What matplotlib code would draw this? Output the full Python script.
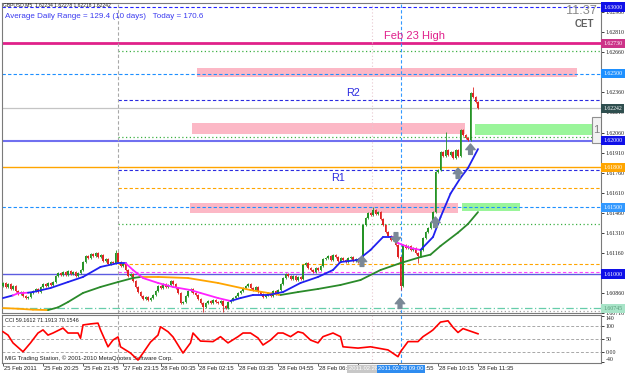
"""
GBPUSD M5 - painel estilo MetaTrader com zonas, pivôs, médias e CCI.
Saída: out.png (625x374)
"""

import numpy as np
import matplotlib
matplotlib.use("Agg")
import matplotlib.pyplot as plt
from matplotlib.patches import Rectangle
from matplotlib.transforms import blended_transform_factory

plt.rcParams["font.family"] = ["Liberation Sans", "DejaVu Sans"]

# ── Dados (preços em pips acima de 1.60000, um valor por barra M5) ────────────
BASE = 1.6
PIP = 0.0001

first_open = 91.0
close_pips = [
    93.3, 90.3, 92.5, 88.8, 91.0, 87.3, 85.0, 86.5, 83.5, 82.0,
    82.8, 85.8, 87.3, 88.8, 86.5, 90.3, 92.5, 91.0, 93.3, 91.8,
    94.0, 98.5, 100.8, 99.3, 101.5, 99.3, 102.3, 100.0, 101.5, 98.5,
    100.8, 103.0, 109.0, 113.5, 112.0, 115.0, 113.5, 115.7, 112.7, 114.2,
    109.7, 111.2, 107.5, 109.0, 108.2, 115.7, 109.0, 106.0, 107.5, 103.0,
    98.5, 100.0, 94.8, 90.3, 86.5, 83.5, 81.3, 82.8, 80.5, 82.0,
    84.3, 87.3, 91.0, 89.5, 92.5, 90.3, 91.8, 94.8, 92.5, 89.5,
    85.8, 78.3, 79.0, 83.5, 87.3, 88.8, 85.8, 84.3, 81.3, 78.3,
    75.3, 78.3, 79.8, 78.3, 80.5, 79.0, 78.3, 79.8, 76.0, 74.5,
    79.0, 80.5, 82.0, 83.5, 85.8, 87.3, 89.5, 91.0, 92.5, 89.5,
    88.0, 90.3, 86.5, 85.0, 82.8, 84.3, 85.8, 83.5, 87.3, 85.0,
    88.0, 92.5, 97.0, 100.0, 98.5, 96.3, 98.5, 95.5, 97.8, 96.3,
    106.8, 108.2, 104.5, 103.0, 101.5, 104.5, 103.0, 106.0, 111.2, 112.0,
    113.5, 110.5, 114.2, 112.7, 109.7, 112.0, 110.5, 109.0, 112.0, 112.7,
    109.7, 111.2, 109.0, 112.7, 136.7, 141.9, 145.7, 144.2, 147.9, 144.9,
    146.4, 141.2, 136.7, 131.5, 128.5, 125.5, 127.0, 121.7, 112.7, 91.0,
    121.7, 119.5, 121.0, 118.0, 119.5, 115.7, 113.5, 118.0, 127.0, 131.5,
    134.5, 139.0, 146.4, 176.4, 177.9, 191.4, 188.4, 192.9, 189.1, 191.4,
    186.9, 192.9, 188.4, 207.9, 204.1, 201.9, 200.4, 235.6, 232.6, 228.8,
    224.2,
]
high_extra = {45: 117.9, 148: 150.2, 177: 206.4, 188: 240.1}
low_extra = {80: 71.6, 88: 71.6, 159: 88.0, 166: 108.2}

# média rápida (azul / magenta quando cai)
fast_bar = [0, 4, 6, 10, 12, 19, 26, 32, 39, 46, 49, 52, 56, 62, 68, 75, 79, 86, 91, 95,
            100, 106, 112, 119, 126, 132, 135, 142, 147, 152, 156, 158, 163, 167, 172, 175,
            179, 183, 186, 190]
fast_val = [82.0, 84.0, 85.6, 86.0, 86.5, 89.5, 94.0, 97.8, 105.3, 108.2, 108.2, 103.0,
            97.0, 93.3, 90.3, 88.0, 85.8, 82.0, 79.8, 82.0, 84.3, 84.3, 86.5, 93.3, 97.8,
            103.0, 109.0, 110.5, 118.0, 127.7, 127.7, 123.2, 119.5, 118.0, 127.7, 142.5,
            160.2, 172.0, 179.4, 193.6]
fast_down = [0, 0, 1, 1, 0, 0, 0, 0, 0, 0, 0, 1, 1, 1, 1, 1, 1, 1, 1, 0,
             0, 0, 0, 0, 0, 0, 0, 0, 0, 0, 0, 1, 1, 1, 0, 0, 0, 0, 0, 0]

# média lenta (verde / laranja quando cai)
slow_bar = [0, 6, 12, 18, 22, 26, 32, 39, 46, 52, 55, 62, 74, 86, 99, 106, 111, 118, 126,
            135, 143, 151, 159, 167, 171, 175, 182, 186, 190]
slow_val = [74.5, 74.0, 73.3, 73.0, 75.0, 79.0, 85.8, 90.3, 94.0, 97.0, 97.8, 97.8, 97.0,
            93.3, 88.0, 85.8, 84.3, 86.5, 88.8, 91.8, 95.5, 103.0, 108.2, 112.7, 114.5,
            121.0, 131.0, 137.5, 146.4]
slow_down = [1, 1, 1, 1, 0, 0, 0, 0, 0, 0, 0, 1, 1, 1, 1, 1, 1, 0, 0, 0,
             0, 0, 0, 0, 0, 0, 0, 0, 0]

# CCI (painel inferior)
cci_bar = [0, 2, 4, 8, 11, 14, 16, 18, 20, 24, 26, 30, 31, 32, 35, 38, 39, 42, 44, 46,
           47, 51, 54, 56, 59, 62, 63, 66, 68, 72, 75, 76, 79, 84, 87, 90, 94, 96, 99, 102,
           104, 107, 110, 112, 115, 118, 120, 123, 126, 128, 132, 135, 136, 142, 147, 154,
           158, 159, 162, 166, 168, 171, 172, 175, 178, 180, 182, 184, 187, 190]
cci_val = [78, 65, 35, 1, 35, 73, 85, 65, 73, 92, 73, 73, 53, 104, 108, 111, 85, 20, 46, 58,
           20, -4, -31, -4, 38, 65, 97, 78, 58, -4, 35, 73, 42, 40, 59, 35, 59, 73, 73, 54,
           27, 46, 73, 73, 59, 78, 73, 46, 35, 59, 73, 59, 20, 15, 20, 8, -18, 1, 40, 40,
           59, 78, 85, 115, 120, 95, 75, 90, 80, 70]
cci_levels = [100, 50, 0]

# zonas de oferta/demanda (barra inicial, final, pips baixo/alto)
zone_start = [77.6, 75.6, 188.8, 74.8, 183.6]
zone_end = [229.6, 184.8, 239.2, 182.0, 206.8]
zone_lo = [247.6, 204.9, 204.1, 145.7, 147.2]
zone_hi = [254.3, 213.1, 212.4, 153.2, 153.2]
zone_kind = ["supply", "supply", "demand", "supply", "demand"]

# níveis horizontais (preço)
round_levels = [1.63000, 1.62500, 1.62000, 1.61500, 1.61000]
feb23_high = 1.62730
r2, r1 = 1.62307, 1.61779
bid = 1.62242
daily_open = 1.61800
green_dots = [1.62670, 1.62026, 1.61375]
orange_dash = [1.61648, 1.61075]
magenta_dash = 1.61015
teal_line = 1.60745
gray_dots = 1.60723

# sinais (setas)
sig_bar = [143.6, 157.2, 158.8, 173, 182, 187]
sig_price = [1.61135, 1.61232, 1.60820, 1.61427, 1.61794, 1.61974]
sig_up = [True, False, True, True, True, True]

# eixo de tempo (o rótulo 07:35 fica escondido sob a caixa cinza)
tick_bars = [0, 16, 32, 48, 63, 78, 94, 110, 126, 142, 158, 174, 190]
tick_text = ["25 Feb 2011", "25 Feb 20:25", "25 Feb 21:45", "27 Feb 23:15",
             "28 Feb 00:35", "28 Feb 02:15", "28 Feb 03:35", "28 Feb 04:55",
             "28 Feb 06:15", "", "28 Feb 08:55", "28 Feb 10:15",
             "28 Feb 11:35"]
day_sep_bar = 46
marker_bar = 147.5
cross_bar = 159.2

COLORS = {
    "up": "#259325", "down": "#E02424",
    "supply": "#FCB8C6", "demand": "#9AF59A",
    "blue": "#2020F0", "magenta": "#FF22FF",
    "green": "#2A8A2A", "orange": "#FFA500",
    "frame": "#7A7A7A",
}

# ── Figura ────────────────────────────────────────────────────────────────────
W, H = 625, 374
fig = plt.figure(figsize=(W / 100, H / 100), dpi=100)
fig.patch.set_facecolor("white")
ax = fig.add_axes([2 / W, 1 - 313 / H, 599 / W, 310 / H])
ax2 = fig.add_axes([2 / W, 1 - 363 / H, 599 / W, 48 / H], sharex=ax)

XMIN, XMAX = -0.4, 239.2
ax.set_xlim(XMIN, XMAX)
ax.set_ylim(1.60708, 1.63030)
ax2.set_ylim(-42.3, 142.3)

for a in (ax, ax2):
    for s in a.spines.values():
        s.set_color(COLORS["frame"])
        s.set_linewidth(0.8)

# zonas
for x0, x1, lo, hi, kind in zip(zone_start, zone_end, zone_lo, zone_hi, zone_kind):
    ax.add_patch(Rectangle((x0, BASE + lo * PIP), x1 - x0, (hi - lo) * PIP,
                           fc=COLORS[kind], ec="none", zorder=1))

# linhas horizontais
full = (XMIN, XMAX)
part = (day_sep_bar, XMAX)
hlines = [
    (round_levels[0], "#2424FF", (0, (3, 2)), 0.8, full),
    (feb23_high, "#E0218A", "-", 2.0, full),
    (green_dots[0], "#3CB043", (0, (1, 2)), 0.9, part),
    (round_levels[1], "#1E90FF", (0, (3, 2)), 0.8, full),
    (r2, "#2A2AE0", (0, (3, 2)), 0.8, part),
    (bid, "#C4C4C4", "-", 0.9, full),
    (green_dots[1], "#3CB043", (0, (1, 2)), 0.9, part),
    (round_levels[2], "#7070F0", "-", 1.5, full),
    (daily_open, COLORS["orange"], "-", 1.0, full),
    (r1, "#2A2AE0", (0, (3, 2)), 0.8, part),
    (orange_dash[0], COLORS["orange"], (0, (3, 2)), 0.8, part),
    (round_levels[3], "#1E90FF", (0, (3, 2)), 0.8, full),
    (green_dots[2], "#3CB043", (0, (1, 2)), 0.9, part),
    (orange_dash[1], COLORS["orange"], (0, (3, 2)), 0.8, part),
    (magenta_dash, "#FF44FF", (0, (3, 2)), 0.8, part),
    (round_levels[4], "#5C5CE0", "-", 1.0, full),
    (teal_line, "#66CDAA", (0, (6, 2, 1, 2)), 0.9, full),
    (gray_dots, "#A0A0A0", (0, (1, 2)), 0.9, part),
]
for price, col, ls, lw, (x0, x1) in hlines:
    ax.plot([x0, x1], [price, price], color=col, ls=ls, lw=lw, zorder=2)

# linhas verticais
for a in (ax, ax2):
    a.axvline(day_sep_bar, color="#A8A8A8", ls=(0, (3, 2)), lw=0.8, zorder=2)
    a.axvline(marker_bar, color="#E8C8D0", ls=(0, (1, 2)), lw=0.8, zorder=2)
    a.axvline(cross_bar, color="#3399FF", ls=(0, (3, 2)), lw=0.8, zorder=2)

# candles
c = BASE + np.array(close_pips) * PIP
o = np.r_[BASE + first_open * PIP, c[:-1]]
hi = np.maximum(o, c) + 0.6 * PIP
lo = np.minimum(o, c) - 0.6 * PIP
for k, v in high_extra.items():
    hi[k] = BASE + v * PIP
for k, v in low_extra.items():
    lo[k] = BASE + v * PIP
x = np.arange(len(c))
cols = np.where(c >= o, COLORS["up"], COLORS["down"])
ax.vlines(x, lo, hi, colors=cols, lw=0.6, zorder=3)
ax.bar(x, np.maximum(np.abs(c - o), 0.4 * PIP), bottom=np.minimum(o, c),
       width=0.75, color=cols, lw=0, zorder=3)


def draw_ma(bars, vals, flags, c_up, c_dn, lw=1.3):
    y = BASE + np.array(vals) * PIP
    for k in range(1, len(bars)):
        ax.plot(bars[k - 1:k + 1], y[k - 1:k + 1], color=c_dn if flags[k] else c_up,
                lw=lw, solid_capstyle="round", zorder=4)


draw_ma(slow_bar, slow_val, slow_down, COLORS["green"], COLORS["orange"])
draw_ma(fast_bar, fast_val, fast_down, COLORS["blue"], COLORS["magenta"])

# setas de sinal
for b, p, up in zip(sig_bar, sig_price, sig_up):
    ax.annotate("", xy=(b, p), xytext=(0, -7.5 if up else 7.5), textcoords="offset points",
                arrowprops=dict(arrowstyle="simple,head_length=0.45,head_width=0.75,tail_width=0.3",
                                color="#7A8896", mutation_scale=9, shrinkA=0, shrinkB=0),
                zorder=6)

# eixo de preços à direita (1.62510 e 1.61010 ficam sob as caixas redondas)
yt = [1.60710 + 0.0015 * k for k in range(16)]
ax.yaxis.tick_right()
ax.set_yticks(yt)
ax.set_yticklabels(["" if abs(v - 1.62510) < 1e-6 or abs(v - 1.61010) < 1e-6
                    else f"{v:.5f}" for v in yt],
                   fontsize=4.2, family="Liberation Serif")
ax.tick_params(axis="y", length=2, width=0.6, pad=1.5, colors="#202020")
ax.tick_params(axis="x", bottom=False, labelbottom=False)

yblend = blended_transform_factory(ax.transAxes, ax.transData)
price_boxes = [
    (round_levels[0], "#1010E8", "white"),
    (feb23_high, "#CC3388", "white"),
    (round_levels[1], "#1E90FF", "white"),
    (bid, "#2F4F4F", "white"),
    (round_levels[2], "#1010E8", "white"),
    (daily_open, "#FFA500", "white"),
    (round_levels[3], "#3399FF", "white"),
    (round_levels[4], "#1010E8", "white"),
    (teal_line, "#A8E4C8", "#5A9A7A"),
]
for price, fc, tc in price_boxes:
    ax.text(1.004, price, f"{price:.5f}", transform=yblend, va="center", ha="left",
            fontsize=4.2, color=tc, family="Liberation Serif", clip_on=False, zorder=10,
            bbox=dict(boxstyle="square,pad=0.35", fc=fc, ec="none"))

# caixa "1" na borda direita
ax.add_patch(Rectangle((0.985, 1.61981), 0.015, 0.00195, transform=yblend,
                       fc="#F2F2F2", ec="#909090", lw=0.8, zorder=7))
ax.text(0.9925, 1.62079, "1", transform=yblend, ha="center", va="center",
        fontsize=8, color="#808080", zorder=8)

# textos do gráfico
fig.text(3 / W, 1 - 4.5 / H, "GBPUSD,M5  1.62234 1.62278 1.62218 1.62242",
         fontsize=3.6, color="#202020", va="center")
fig.text(5 / W, 1 - 16 / H, "Average Daily Range = 129.4 (10 days)   Today = 170.6",
         fontsize=5.8, color="#3A3AF0", va="center")
fig.text(597 / W, 1 - 11 / H, "11:37", fontsize=9.2, color="#8A8A8A", ha="right", va="center")
fig.text(594 / W, 1 - 24 / H, "CET", fontsize=7, color="#606060", ha="right", va="center",
         fontweight="bold")
fig.text(384 / W, 1 - 36 / H, "Feb 23 High", fontsize=8, color="#E0208C", va="center")
fig.text(346 / W, 1 - 93.5 / H, "R2", fontsize=7.8, color="#2A2AE0", va="center")
fig.text(331 / W, 1 - 178 / H, "R1", fontsize=7.8, color="#2A2AE0", va="center")

# ── Painel CCI ────────────────────────────────────────────────────────────────
for lv in cci_levels:
    ax2.axhline(lv, color="#A8A8A8", ls=(0, (3, 2)), lw=0.7, zorder=1)
ax2.plot(cci_bar, cci_val, color="#FF0000", lw=1.2, zorder=4)
ax2.text(0.005, 0.93, "CCI 59.1612 71.1913 70.1546", transform=ax2.transAxes,
         fontsize=4, color="#202020", va="top")
ax2.text(0.005, 0.04, "MIG Trading Station, \u00a9 2001-2010 MetaQuotes Software Corp.",
         transform=ax2.transAxes, fontsize=4.3, color="#202020", va="bottom")

ax2.yaxis.tick_right()
ax2.set_yticks([140, 100, 50, 0, -40])
ax2.set_yticklabels(["140", "100", "50", "0.00", "-40"], fontsize=4.2,
                    family="Liberation Serif")
ax2.tick_params(axis="y", length=2, width=0.6, pad=1.5, colors="#202020")
labs = ax2.get_yticklabels()
labs[0].set_va("top")
labs[-1].set_va("bottom")

# eixo de tempo
ax2.set_xticks(tick_bars)
ax2.tick_params(axis="x", length=2.5, width=0.6, labelbottom=False, colors="#404040")
tblend = blended_transform_factory(ax2.transData, fig.transFigure)
for b, t in zip(tick_bars, tick_text):
    if t:
        ax2.text(b + 0.3, 1 - 369 / H, t, transform=tblend, fontsize=4.2, color="#202020",
                 va="center", ha="left", clip_on=False, zorder=5)
ax2.text(marker_bar, 1 - 369 / H, "2011.02.28 07:55", transform=tblend, fontsize=4.2,
         color="white", va="center", ha="center", clip_on=False, zorder=8,
         bbox=dict(boxstyle="square,pad=0.3", fc="#C8C8C8", ec="none"))
ax2.text(cross_bar, 1 - 369 / H, "2011.02.28 09:00", transform=tblend, fontsize=4.2,
         color="white", va="center", ha="center", clip_on=False, zorder=9,
         bbox=dict(boxstyle="square,pad=0.3", fc="#2E8CF0", ec="none"))

fig.savefig("out.png", dpi=100)
